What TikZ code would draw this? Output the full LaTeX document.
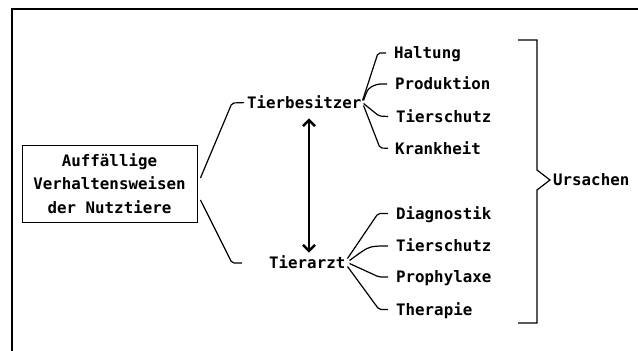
\documentclass[tikz,border=0pt]{standalone}
\usepackage{fontspec}
\newfontfamily\mono{DejaVu Sans Mono}
\usetikzlibrary{arrows.meta}
\begin{document}
\begin{tikzpicture}[x=1pt,y=-1pt,
  frame/.style={line width=2pt},
  conn/.style={line width=1.2pt, rounded corners=2pt},
  lbl/.style={font=\mono\bfseries\fontsize{15.8}{19}\selectfont, inner sep=0pt, text height=11.5pt, text depth=0pt, anchor=west},
  srcbox/.style={draw, line width=0.9pt, minimum width=175pt, minimum height=77pt, align=center,
     font=\mono\bfseries\fontsize{15.8}{23.5}\selectfont, inner sep=0pt},
  dbl/.style={line width=2.4pt, {Straight Barb[length=6pt,width=12pt]}-{Straight Barb[length=6pt,width=12pt]}}
]
\useasboundingbox (0,0) rectangle (638,351);
\draw[frame] (12,351) -- (12,9) -- (638,9);
\node[srcbox] (src) at (109.5,183.5) {Auffällige\\Verhaltensweisen\\der Nutztiere};
\node[lbl] (tb) at (247,102.5) {Tierbesitzer};
\node[lbl] (ta) at (269,262.5) {Tierarzt};
\node[lbl] (h1) at (394,53) {Haltung};
\node[lbl] (h2) at (395,84) {Produktion};
\node[lbl] (h3) at (396,117) {Tierschutz};
\node[lbl] (h4) at (395,148.5) {Krankheit};
\node[lbl] (a1) at (396,213.5) {Diagnostik};
\node[lbl] (a2) at (396,246) {Tierschutz};
\node[lbl] (a3) at (396,277) {Prophylaxe};
\node[lbl] (a4) at (396,309.5) {Therapie};
\node[lbl] (urs) at (553,180) {Ursachen};
\coordinate (ax) at (309,0);
\coordinate (taend) at (242,263);
\coordinate (brtip) at (550,180);
% source to Tierbesitzer / Tierarzt
\draw[conn, shorten >=3pt] ([shift={(3,-5.5)}]src.east) -- (232,103) -- (tb.west);
\draw[conn] ([shift={(3,16.5)}]src.east) -- (232,263) -- (taend);
% double arrow
\draw[dbl, shorten <=10pt, shorten >=4pt] (tb.south -| ax) -- (ta.north -| ax);
% fan Tierbesitzer
\draw[conn, shorten >=8pt] ([shift={(1,-2)}]tb.east) -- (378,53) -- (h1.west);
\draw[conn, shorten >=8pt] ([shift={(2,-2)}]tb.east) .. controls (368,88) .. (378,84) -- (h2.west);
\draw[conn, shorten >=8pt] ([shift={(2,1)}]tb.east) -- (379,116) -- (h3.west);
\draw[conn, shorten >=7pt] ([shift={(2,3)}]tb.east) -- (380,148) -- (h4.west);
% fan Tierarzt
\draw[conn, shorten >=8pt] ([shift={(2,-4)}]ta.east) -- (378,213.5) -- (a1.west);
\draw[conn, shorten >=8pt] ([shift={(4,-2)}]ta.east) .. controls (368,247) .. (379,246) -- (a2.west);
\draw[conn, shorten >=8pt] ([shift={(4,1)}]ta.east) -- (379,277) -- (a3.west);
\draw[conn, shorten >=8pt] ([shift={(2,4)}]ta.east) -- (379,309.5) -- (a4.west);
% bracket
\draw[line width=1.2pt] (518,40) -- (537,40) -- (537,170) -- (brtip) -- (537,190) -- (537,323) -- (518,323);
\end{tikzpicture}
\end{document}
